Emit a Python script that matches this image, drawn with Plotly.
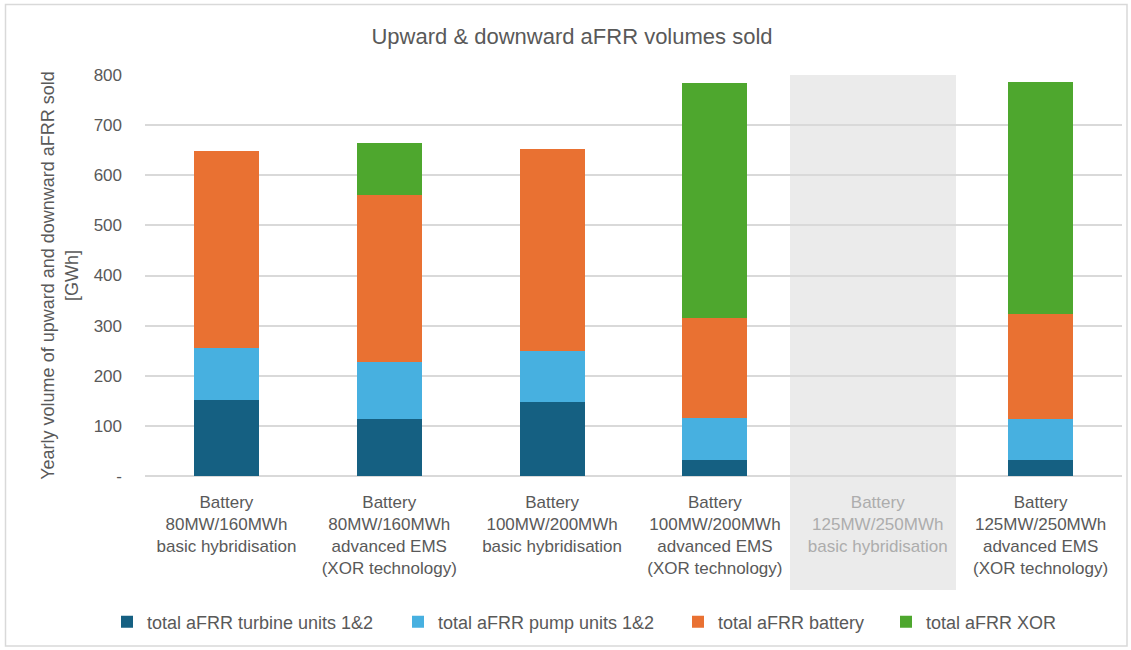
import plotly.graph_objects as go

categories = [
    "Battery<br>80MW/160MWh<br>basic hybridisation",
    "Battery<br>80MW/160MWh<br>advanced EMS<br>(XOR technology)",
    "Battery<br>100MW/200MWh<br>basic hybridisation",
    "Battery<br>100MW/200MWh<br>advanced EMS<br>(XOR technology)",
    "Battery<br>125MW/250MWh<br>basic hybridisation",
    "Battery<br>125MW/250MWh<br>advanced EMS<br>(XOR technology)",
]
turbine = [151, 114, 148, 31, 0, 32]
pump = [105, 113, 102, 85, 0, 82]
battery = [393, 334, 402, 199, 0, 210]
xor = [0, 103, 0, 470, 0, 463]

series_names = ["total aFRR turbine units 1&2", "total aFRR pump units 1&2",
                "total aFRR battery", "total aFRR XOR"]
series_values = [turbine, pump, battery, xor]
series_colors = ["#156082", "#47B0E0", "#E97132", "#4EA72E"]

ytickvals = [0, 100, 200, 300, 400, 500, 600, 700, 800]
yticktext = ["-", "100", "200", "300", "400", "500", "600", "700", "800"]

W, H = 1131, 650
ml, mr, mt, mb = 145, 9, 75, 174
FONT = "Liberation Sans, Arial, sans-serif"
GREY = "#595959"

pw = W - ml - mr
ph = H - mt - mb
def px(img_x):
    return (img_x - ml) / pw
def py(img_y):
    return (H - mb - img_y) / ph

xpos = list(range(len(categories)))
ticktext = []
for i, c in enumerate(categories):
    col = "#ADADAD" if i == 4 else GREY
    parts = [f"<span style='color:{col}'>{p}</span>" for p in c.split("<br>")]
    ticktext.append("<br>".join(parts))

legend_img_x = [107, 398, 678, 886]
legend_keys = ["legend", "legend2", "legend3", "legend4"]

fig = go.Figure()
for name, vals, color, lk in zip(series_names, series_values, series_colors, legend_keys):
    fig.add_trace(go.Bar(x=xpos, y=vals, name=name, legend=lk,
                         marker=dict(color=color, line=dict(width=0)),
                         hoverinfo="x+y+name"))

fig.add_shape(type="rect", xref="paper", yref="paper", x0=px(790), x1=px(956), y0=py(590), y1=1,
              fillcolor="#EBEBEB", line=dict(width=0), layer="below")
fig.add_shape(type="rect", xref="paper", yref="paper", x0=px(5.5), x1=px(1127), y0=py(646), y1=py(4.5),
              fillcolor="rgba(0,0,0,0)", line=dict(color="#D9D9D9", width=1.5), layer="below")

legend_common = dict(orientation="h", xanchor="left", yanchor="middle", y=py(622),
                     font=dict(size=18, color=GREY, family=FONT), itemwidth=30,
                     bgcolor="rgba(0,0,0,0)", xref="paper", yref="paper")
legends = {}
for lk, lx in zip(legend_keys, legend_img_x):
    legends[lk] = dict(legend_common, x=px(lx))

fig.update_layout(
    width=W, height=H,
    margin=dict(l=ml, r=mr, t=mt, b=mb, autoexpand=False),
    barmode="stack",
    bargap=0.6,
    plot_bgcolor="rgba(0,0,0,0)",
    paper_bgcolor="white",
    font=dict(family=FONT, color=GREY, size=16),
    title=dict(text="Upward & downward aFRR volumes sold", x=572 / W, xref="container",
               xanchor="center", y=1 - 36 / H, yref="container", yanchor="middle",
               font=dict(size=22, color=GREY, family=FONT)),
    showlegend=True,
    **legends,
    xaxis=dict(tickmode="array", tickvals=xpos, ticktext=ticktext, range=[-0.5, 5.5],
               showgrid=False, zeroline=False, showline=False, ticks="", tickangle=0, automargin=False,
               ticklabelstandoff=14, tickfont=dict(size=17, family=FONT)),
    yaxis=dict(tickmode="array", tickvals=ytickvals, ticktext=yticktext, range=[0, 800], automargin=False,
               showgrid=True, gridcolor="#D9D9D9", gridwidth=1.5, zeroline=True, zerolinecolor="#D9D9D9",
               zerolinewidth=1.5, showline=False, ticks="", ticklabelstandoff=22,
               tickfont=dict(size=17, family=FONT, color=GREY),
               title=dict(text="Yearly volume of upward and downward aFRR sold<br>[GWh]", standoff=10,
                          font=dict(size=18, family=FONT, color=GREY))),
)

fig.write_html("out.html", config={"displayModeBar": False},
               post_script="document.body.style.margin='0';document.body.style.overflow='hidden';")
